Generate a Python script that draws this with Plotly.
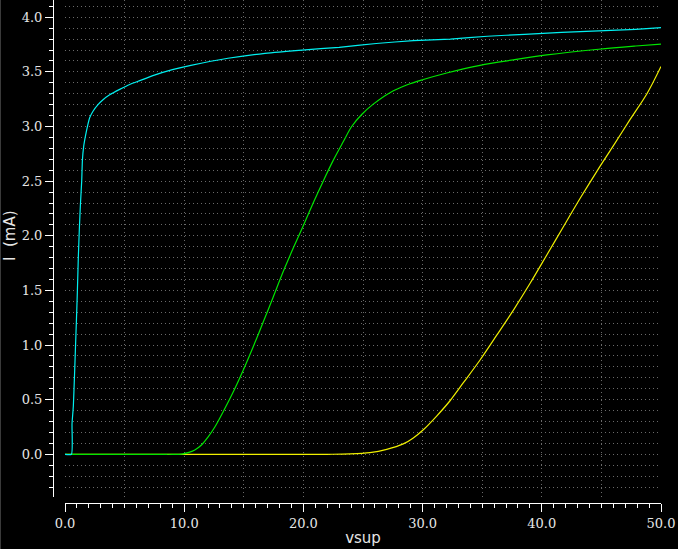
import plotly.graph_objects as go

# ---- data ----
cyan_x = [0, 0.54, 0.59, 0.70, 0.79, 0.87, 0.96, 1.04, 1.12, 1.21, 1.29, 1.40, 1.46, 1.57, 1.71,
          1.88, 2.07, 2.35, 2.77, 3.19, 3.75, 4.59, 5.43, 6.27, 7.5, 9.01, 10.56, 13.67, 16.78,
          19.89, 23.0, 26.11, 29.22, 32.33, 35.44, 38.55, 41.66, 44.77, 47.88, 50]
cyan_y = [0, 0, 0.28, 0.44, 0.70, 0.95, 1.23, 1.50, 1.81, 2.08, 2.28, 2.50, 2.69, 2.82, 2.91,
          3.00, 3.08, 3.14, 3.20, 3.245, 3.29, 3.34, 3.385, 3.42, 3.47, 3.52, 3.56, 3.625, 3.67,
          3.70, 3.725, 3.76, 3.786, 3.80, 3.826, 3.844, 3.862, 3.875, 3.89, 3.905]

green_x = [0, 8.5, 9.8, 10.33, 10.89, 11.45, 12.01, 12.57, 13.27, 14.11, 14.95, 15.79, 16.63,
           17.47, 18.30, 19.14, 19.98, 20.82, 21.66, 22.50, 23.34, 24.05, 24.89, 25.86, 27.26,
           28.66, 30.06, 32.02, 34.82, 37.62, 40.42, 44.77, 47.88, 50]
green_y = [0, 0, 0.002, 0.015, 0.04, 0.085, 0.16, 0.25, 0.39, 0.57, 0.77, 0.985, 1.21,
           1.44, 1.67, 1.885, 2.09, 2.30, 2.50, 2.69, 2.86, 3.00, 3.11, 3.205, 3.31,
           3.38, 3.43, 3.49, 3.56, 3.61, 3.655, 3.707, 3.737, 3.755]

yellow_x = [0, 22.0, 23.91, 25.58, 26.99, 28.38, 29.22, 30.06, 31.18, 32.30, 33.42, 34.82,
            36.22, 37.62, 39.02, 40.42, 41.81, 43.22, 44.62, 46.01, 47.41, 48.82, 50]
yellow_y = [0, 0, 0.003, 0.015, 0.045, 0.095, 0.15, 0.225, 0.35, 0.49, 0.655, 0.863,
            1.09, 1.32, 1.565, 1.824, 2.083, 2.343, 2.59, 2.825, 3.065, 3.30, 3.55]

x_range = [0, 50]
y_range = [-0.391, 4.158]
x_title = "vsup"
y_title = "I  (mA)"

W, H = 678, 549
ML, MR, MT, MB = 53, 17, 0, 46
pw = W - ML - MR
ph = H - MT - MB

grid_col = "#6a6a6a"
grid_dash = "1px,3px"
tick_font = dict(family="DejaVu Serif", size=13, color="#e6e6e6")
title_font = dict(family="DejaVu Sans", size=15, color="#e6e6e6")

fig = go.Figure()
# carrier for the 1-unit minor tick axis (no visible mark)
fig.add_trace(go.Scatter(x=x_range, y=[None, None], xaxis="x2", yaxis="y", mode="lines",
                         line=dict(width=0), hoverinfo="skip", showlegend=False))
fig.add_trace(go.Scatter(x=yellow_x, y=yellow_y, mode="lines", line_shape="spline",
                         line=dict(color="#f0f000", width=1.2, smoothing=0.9), hoverinfo="skip"))
fig.add_trace(go.Scatter(x=green_x, y=green_y, mode="lines", line_shape="spline",
                         line=dict(color="#00e600", width=1.2, smoothing=0.9), hoverinfo="skip"))
fig.add_trace(go.Scatter(x=cyan_x, y=cyan_y, mode="lines", line_shape="spline",
                         line=dict(color="#00f0f0", width=1.2, smoothing=0.5), hoverinfo="skip"))

fig.update_layout(
    width=W, height=H,
    margin=dict(l=ML, r=MR, t=MT, b=MB, pad=0, autoexpand=False),
    paper_bgcolor="#000000", plot_bgcolor="#000000",
    showlegend=False,
    xaxis=dict(
        domain=[12 / pw, 1], range=x_range, anchor="free", position=0, automargin=False,
        tick0=0, dtick=10, tickformat=".1f", ticks="outside", ticklen=8,
        tickcolor="#ffffff", tickwidth=1, showline=True, linecolor="#ffffff", linewidth=1,
        showgrid=True, gridcolor=grid_col, griddash=grid_dash, gridwidth=1,
        zeroline=False, tickfont=tick_font,
        minor=dict(dtick=5, tick0=0, ticks="outside", ticklen=4, tickcolor="#ffffff",
                   showgrid=True, gridcolor=grid_col, griddash=grid_dash, gridwidth=1),
        title=dict(text=x_title, font=title_font, standoff=2),
    ),
    xaxis2=dict(
        overlaying="x", anchor="free", position=0, range=x_range, automargin=False,
        tick0=0, dtick=1, ticks="outside", ticklen=4, tickcolor="#ffffff", tickwidth=1,
        showgrid=False, showticklabels=False, showline=False, zeroline=False, side="bottom",
    ),
    yaxis=dict(
        domain=[6 / ph, 1], range=y_range, anchor="free", position=0, automargin=False,
        tick0=0, dtick=0.5, tickformat=".1f", ticks="outside", ticklen=8,
        tickcolor="#ffffff", tickwidth=1, showline=True, linecolor="#ffffff", linewidth=1,
        showgrid=True, gridcolor=grid_col, griddash=grid_dash, gridwidth=1,
        zeroline=False, tickfont=tick_font,
        minor=dict(dtick=0.1, ticks="outside", ticklen=4, tickcolor="#ffffff",
                   showgrid=True, gridcolor=grid_col, griddash=grid_dash, gridwidth=1),
    ),
    annotations=[dict(text=y_title, xref="paper", yref="paper",
                      x=(10 - ML) / pw, y=(ph - 236) / ph, xanchor="center", yanchor="middle",
                      textangle=-90, showarrow=False, font=title_font)],
    shapes=[dict(type="line", xref="paper", yref="paper",
                 x0=-(ML - 0.5) / pw, x1=-(ML - 0.5) / pw, y0=-MB / ph, y1=1,
                 line=dict(color="#3a3a3a", width=1))],
)

fig.write_html("out.html", config={"displayModeBar": False},
               post_script="document.body.style.margin='0';")
